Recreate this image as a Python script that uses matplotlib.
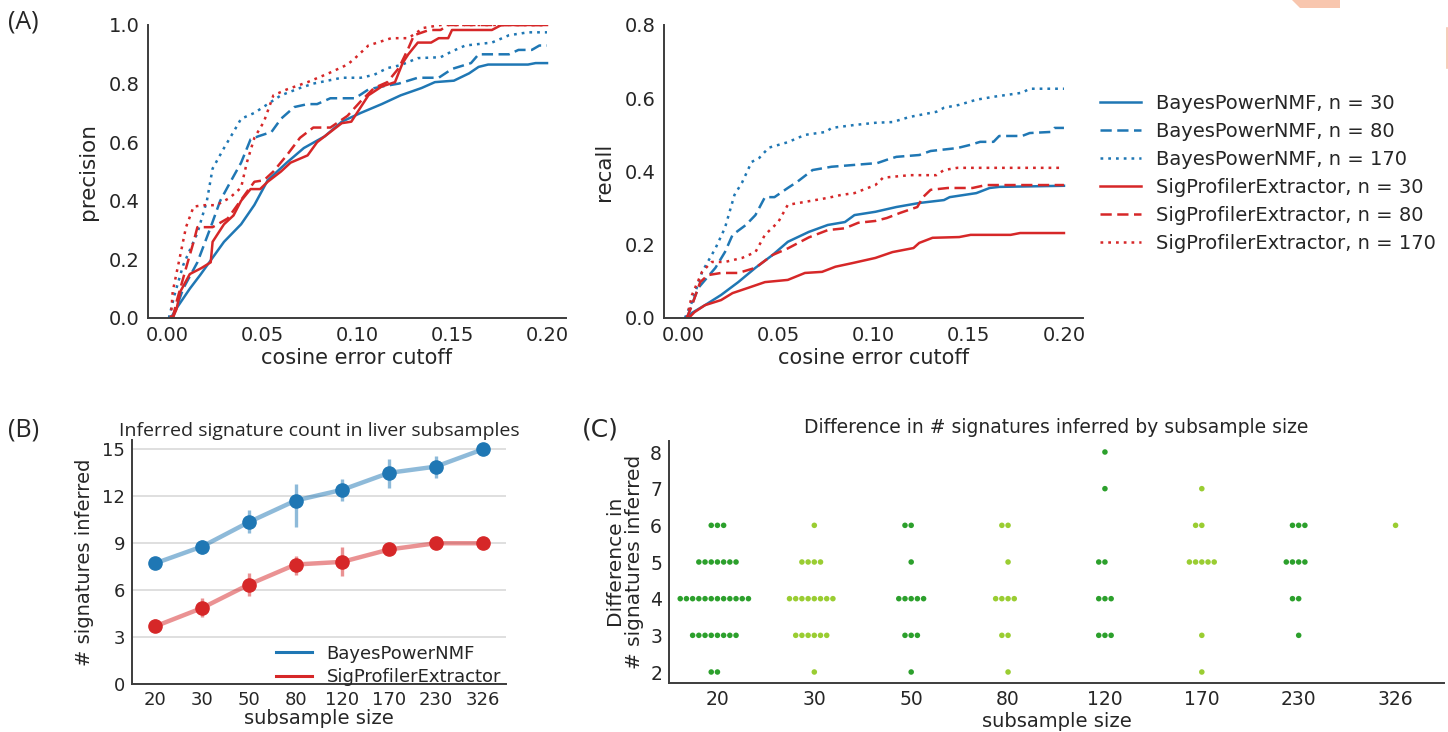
import matplotlib
matplotlib.use("Agg")
import matplotlib.pyplot as plt
from matplotlib.patches import Polygon
import numpy as np

# ---------------- data ----------------
methods = ["BayesPowerNMF", "SigProfilerExtractor"]
sizes_A = [30, 80, 170]

prec_bayes30_x = [0.002, 0.005, 0.012, 0.0175, 0.03, 0.039, 0.046, 0.053, 0.063, 0.072, 0.083, 0.092, 0.102, 0.113, 0.123, 0.134, 0.141, 0.151, 0.159, 0.164, 0.169, 0.19, 0.194, 0.2]
prec_bayes30_y = [0, 0.033, 0.10, 0.147, 0.26, 0.32, 0.386, 0.47, 0.53, 0.58, 0.62, 0.67, 0.70, 0.73, 0.76, 0.785, 0.805, 0.81, 0.835, 0.857, 0.865, 0.865, 0.87, 0.87]
prec_bayes80_x = [0.003, 0.0085, 0.016, 0.023, 0.028, 0.033, 0.039, 0.044, 0.048, 0.055, 0.06, 0.067, 0.074, 0.079, 0.086, 0.099, 0.106, 0.113, 0.122, 0.132, 0.143, 0.15, 0.16, 0.164, 0.18, 0.185, 0.192, 0.196, 0.2]
prec_bayes80_y = [0, 0.10, 0.19, 0.31, 0.40, 0.46, 0.53, 0.61, 0.62, 0.635, 0.68, 0.72, 0.73, 0.73, 0.75, 0.75, 0.78, 0.79, 0.80, 0.82, 0.82, 0.85, 0.87, 0.90, 0.90, 0.915, 0.915, 0.93, 0.93]
prec_bayes170_x = [0.001, 0.004, 0.0085, 0.016, 0.021, 0.024, 0.03, 0.035, 0.039, 0.046, 0.053, 0.06, 0.07, 0.077, 0.092, 0.102, 0.109, 0.116, 0.123, 0.132, 0.144, 0.15, 0.157, 0.171, 0.18, 0.19, 0.2]
prec_bayes170_y = [0, 0.08, 0.18, 0.29, 0.40, 0.51, 0.58, 0.635, 0.68, 0.70, 0.73, 0.76, 0.785, 0.80, 0.82, 0.82, 0.83, 0.853, 0.863, 0.887, 0.89, 0.91, 0.93, 0.94, 0.965, 0.975, 0.975]
prec_sig30_x = [0.003, 0.005, 0.007, 0.012, 0.018, 0.023, 0.024, 0.03, 0.035, 0.039, 0.044, 0.049, 0.053, 0.06, 0.065, 0.074, 0.079, 0.086, 0.092, 0.097, 0.10, 0.106, 0.113, 0.12, 0.124, 0.127, 0.132, 0.139, 0.143, 0.148, 0.15, 0.171, 0.176, 0.2]
prec_sig30_y = [0, 0.03, 0.09, 0.15, 0.17, 0.19, 0.26, 0.32, 0.35, 0.40, 0.44, 0.44, 0.465, 0.50, 0.53, 0.555, 0.60, 0.635, 0.665, 0.67, 0.70, 0.76, 0.79, 0.805, 0.87, 0.90, 0.94, 0.94, 0.955, 0.955, 0.983, 0.983, 1.0, 1.0]
prec_sig80_x = [0.003, 0.005, 0.01, 0.014, 0.016, 0.024, 0.032, 0.037, 0.042, 0.046, 0.051, 0.056, 0.063, 0.07, 0.077, 0.086, 0.095, 0.102, 0.109, 0.116, 0.122, 0.127, 0.13, 0.138, 0.144, 0.148, 0.2]
prec_sig80_y = [0, 0.055, 0.17, 0.26, 0.31, 0.31, 0.34, 0.385, 0.43, 0.465, 0.47, 0.50, 0.555, 0.615, 0.65, 0.65, 0.69, 0.74, 0.785, 0.805, 0.853, 0.92, 0.965, 0.983, 0.983, 1.0, 1.0]
prec_sig170_x = [0.002, 0.003, 0.007, 0.01, 0.014, 0.019, 0.026, 0.033, 0.039, 0.042, 0.046, 0.051, 0.056, 0.063, 0.074, 0.085, 0.095, 0.099, 0.106, 0.118, 0.127, 0.135, 0.144, 0.2]
prec_sig170_y = [0, 0.09, 0.215, 0.31, 0.38, 0.385, 0.385, 0.41, 0.445, 0.53, 0.615, 0.67, 0.76, 0.78, 0.805, 0.835, 0.865, 0.887, 0.93, 0.955, 0.955, 0.99, 1.0, 1.0]

rec_bayes30_x = [0.002, 0.0047, 0.0115, 0.02, 0.029, 0.038, 0.047, 0.055, 0.066, 0.076, 0.085, 0.09, 0.101, 0.112, 0.124, 0.137, 0.14, 0.154, 0.161, 0.166, 0.2]
rec_bayes30_y = [0, 0.014, 0.035, 0.063, 0.098, 0.137, 0.172, 0.208, 0.235, 0.254, 0.262, 0.281, 0.29, 0.303, 0.314, 0.322, 0.33, 0.341, 0.355, 0.358, 0.361]
rec_bayes80_x = [0.002, 0.008, 0.017, 0.022, 0.026, 0.033, 0.038, 0.043, 0.048, 0.055, 0.06, 0.068, 0.078, 0.09, 0.102, 0.107, 0.112, 0.124, 0.13, 0.144, 0.151, 0.156, 0.163, 0.166, 0.178, 0.182, 0.193, 0.195, 0.2]
rec_bayes80_y = [0, 0.082, 0.137, 0.18, 0.227, 0.254, 0.281, 0.33, 0.33, 0.355, 0.372, 0.404, 0.413, 0.418, 0.423, 0.432, 0.44, 0.445, 0.456, 0.464, 0.473, 0.481, 0.481, 0.497, 0.497, 0.505, 0.508, 0.519, 0.519]
rec_bayes170_x = [0.001, 0.0047, 0.01, 0.017, 0.022, 0.027, 0.031, 0.036, 0.04, 0.045, 0.055, 0.064, 0.075, 0.078, 0.09, 0.101, 0.11, 0.119, 0.133, 0.137, 0.145, 0.154, 0.163, 0.178, 0.182, 0.2]
rec_bayes170_y = [0, 0.044, 0.126, 0.19, 0.246, 0.336, 0.37, 0.426, 0.437, 0.465, 0.48, 0.50, 0.508, 0.519, 0.527, 0.533, 0.535, 0.549, 0.563, 0.574, 0.582, 0.596, 0.604, 0.615, 0.626, 0.626]
rec_sig30_x = [0.003, 0.006, 0.0115, 0.02, 0.026, 0.034, 0.043, 0.055, 0.064, 0.073, 0.08, 0.089, 0.101, 0.11, 0.121, 0.124, 0.131, 0.145, 0.151, 0.172, 0.177, 0.2]
rec_sig30_y = [0, 0.016, 0.035, 0.049, 0.068, 0.082, 0.098, 0.104, 0.123, 0.126, 0.14, 0.15, 0.164, 0.18, 0.191, 0.205, 0.219, 0.221, 0.227, 0.227, 0.232, 0.232]
rec_sig80_x = [0.002, 0.0047, 0.009, 0.013, 0.02, 0.029, 0.038, 0.047, 0.055, 0.066, 0.076, 0.085, 0.092, 0.101, 0.107, 0.114, 0.123, 0.126, 0.13, 0.139, 0.152, 0.159, 0.2]
rec_sig80_y = [0, 0.035, 0.098, 0.117, 0.123, 0.123, 0.137, 0.172, 0.19, 0.22, 0.24, 0.245, 0.26, 0.265, 0.273, 0.287, 0.303, 0.33, 0.35, 0.355, 0.355, 0.363, 0.363]
rec_sig170_x = [0.002, 0.0047, 0.01, 0.015, 0.022, 0.031, 0.038, 0.043, 0.05, 0.055, 0.064, 0.076, 0.083, 0.09, 0.097, 0.101, 0.105, 0.119, 0.133, 0.137, 0.144, 0.2]
rec_sig170_y = [0, 0.063, 0.126, 0.153, 0.153, 0.164, 0.18, 0.227, 0.262, 0.309, 0.317, 0.328, 0.336, 0.341, 0.355, 0.363, 0.383, 0.39, 0.39, 0.404, 0.41, 0.41]

subsample_sizes = ["20", "30", "50", "80", "120", "170", "230", "326"]
bayes_mean = [7.72, 8.79, 10.35, 11.73, 12.42, 13.5, 13.9, 15.0]
bayes_lo = [7.35, 8.3, 9.64, 10.03, 11.7, 12.55, 13.2, 15.0]
bayes_hi = [8.1, 9.2, 11.1, 12.8, 13.1, 14.4, 14.57, 15.0]
sig_mean = [3.69, 4.86, 6.36, 7.64, 7.81, 8.6, 9.0, 9.0]
sig_lo = [3.35, 4.3, 5.65, 7.0, 6.93, 8.3, 9.0, 9.0]
sig_hi = [4.16, 5.48, 7.1, 8.17, 8.75, 8.83, 9.0, 9.0]

# Panel C: counts of each difference value per subsample size
diff_values = [2, 3, 4, 5, 6, 7, 8]
diff_counts = {
    "20":  [2, 8, 12, 7, 3, 0, 0],
    "30":  [1, 6, 8, 4, 1, 0, 0],
    "50":  [1, 3, 5, 1, 2, 0, 0],
    "80":  [1, 2, 4, 1, 2, 0, 0],
    "120": [0, 3, 3, 2, 0, 1, 1],
    "170": [1, 1, 0, 5, 2, 1, 0],
    "230": [0, 1, 2, 4, 3, 0, 0],
    "326": [0, 0, 0, 0, 1, 0, 0],
}

# ---------------- style ----------------
BLUE = "#1f77b4"
RED = "#d62728"
DARKG = "#2ca02c"
LIGHTG = "#9acd32"
TXT = "#262626"
SPINE = "#3c3c3c"
plt.rcParams["font.family"] = ["DejaVu Sans"]
plt.rcParams["text.color"] = TXT
plt.rcParams["axes.labelcolor"] = TXT
plt.rcParams["xtick.color"] = TXT
plt.rcParams["ytick.color"] = TXT

W, H = 1448, 732
fig = plt.figure(figsize=(W / 100, H / 100), dpi=100)
fig.patch.set_facecolor("white")


def add_ax(x0, y0, x1, y1):
    return fig.add_axes([x0 / W, 1 - y1 / H, (x1 - x0) / W, (y1 - y0) / H])


def style(ax):
    for s in ["top", "right"]:
        ax.spines[s].set_visible(False)
    for s in ["left", "bottom"]:
        ax.spines[s].set_color(SPINE)
        ax.spines[s].set_linewidth(1.4)
    ax.tick_params(length=0, pad=6)


ls_map = {30: "-", 80: (0, (4.5, 2.2)), 170: (0, (1.1, 2.0))}

# ---------------- Panel A ----------------
axP = add_ax(148, 25, 566, 318)
axR = add_ax(664, 25, 1083, 318)
prec = {
    ("B", 30): (prec_bayes30_x, prec_bayes30_y), ("B", 80): (prec_bayes80_x, prec_bayes80_y),
    ("B", 170): (prec_bayes170_x, prec_bayes170_y), ("S", 30): (prec_sig30_x, prec_sig30_y),
    ("S", 80): (prec_sig80_x, prec_sig80_y), ("S", 170): (prec_sig170_x, prec_sig170_y),
}
rec = {
    ("B", 30): (rec_bayes30_x, rec_bayes30_y), ("B", 80): (rec_bayes80_x, rec_bayes80_y),
    ("B", 170): (rec_bayes170_x, rec_bayes170_y), ("S", 30): (rec_sig30_x, rec_sig30_y),
    ("S", 80): (rec_sig80_x, rec_sig80_y), ("S", 170): (rec_sig170_x, rec_sig170_y),
}
handles = []
for m, col, name in [("B", BLUE, methods[0]), ("S", RED, methods[1])]:
    for n in sizes_A:
        x, y = prec[(m, n)]
        h, = axP.plot(x, y, color=col, ls=ls_map[n], lw=1.8, label=f"{name}, n = {n}")
        x, y = rec[(m, n)]
        axR.plot(x, y, color=col, ls=ls_map[n], lw=1.8)
        handles.append(h)

for ax, ylab, ymax, yt in [(axP, "precision", 1.0, np.arange(0, 1.01, 0.2)),
                           (axR, "recall", 0.8, np.arange(0, 0.81, 0.2))]:
    style(ax)
    ax.set_xlim(-0.01, 0.21)
    ax.set_ylim(0, ymax)
    ax.set_xticks([0, 0.05, 0.10, 0.15, 0.20])
    ax.set_xticklabels(["0.00", "0.05", "0.10", "0.15", "0.20"])
    ax.set_yticks(yt)
    ax.set_yticklabels([f"{v:.1f}" for v in yt])
    ax.tick_params(labelsize=14)
    ax.set_xlabel("cosine error cutoff", fontsize=15, labelpad=2)
    ax.set_ylabel(ylab, fontsize=15.5, labelpad=8)

leg = fig.legend(handles=handles, loc="upper left", bbox_to_anchor=(1092 / W, 1 - 86 / H),
                 frameon=False, fontsize=14, handlelength=2.1, handletextpad=0.8,
                 labelspacing=0.46, borderaxespad=0)

# ---------------- Panel B ----------------
axB = add_ax(132, 440, 506, 684)
style(axB)
xs = np.arange(len(subsample_sizes))
axB.yaxis.grid(True, color="#d9d9d9", lw=1.2)
axB.set_axisbelow(True)
for mean, lo, hi, col, name in [(bayes_mean, bayes_lo, bayes_hi, BLUE, methods[0]),
                                (sig_mean, sig_lo, sig_hi, RED, methods[1])]:
    axB.plot(xs, mean, color=col, lw=3.2, alpha=0.5, zorder=2)
    axB.vlines(xs, lo, hi, color=col, lw=2.4, alpha=0.5, zorder=2)
    axB.plot(xs, mean, "o", color=col, ms=9.5, zorder=3)
    axB.plot([], [], color=col, lw=2.2, label=name)
axB.set_xlim(-0.5, 7.5)
axB.set_ylim(0, 15.6)
axB.set_xticks(xs)
axB.set_xticklabels(subsample_sizes)
axB.set_yticks([0, 3, 6, 9, 12, 15])
axB.tick_params(labelsize=13, pad=5)
axB.set_xlabel("subsample size", fontsize=14, labelpad=0)
axB.set_ylabel("# signatures inferred", fontsize=14, labelpad=6)
axB.set_title("Inferred signature count in liver subsamples", fontsize=14,
              family=["Open Sans", "DejaVu Sans"], pad=3)
axB.legend(loc="lower right", bbox_to_anchor=(1.03, -0.075), frameon=False, fontsize=13,
           handlelength=2.0, handletextpad=0.8, labelspacing=0.3)

# ---------------- Panel C ----------------
axC = add_ax(669, 441, 1444, 683)
style(axC)
narrow = ["Liberation Sans Narrow", "DejaVu Sans"]
spacing = 0.064
for i, cat in enumerate(subsample_sizes):
    col = DARKG if i % 2 == 0 else LIGHTG
    for v, c in zip(diff_values, diff_counts[cat]):
        if c == 0:
            continue
        order = [0] + [s * k for k in range(1, c) for s in (-1, 1)]
        offs = np.array(order[:c], dtype=float) * spacing
        axC.scatter(i + offs, np.full(c, v), s=16, color=col, edgecolors="none", zorder=3)
axC.set_xlim(-0.5, 7.5)
axC.set_ylim(1.7, 8.3)
axC.set_xticks(np.arange(len(subsample_sizes)))
axC.set_xticklabels(subsample_sizes, family=narrow)
axC.set_yticks(diff_values)
axC.set_yticklabels([str(v) for v in diff_values], family=narrow)
axC.tick_params(labelsize=13.5, pad=5)
axC.set_xlabel("subsample size", fontsize=14, family=narrow, labelpad=2)
axC.set_ylabel("Difference in\n# signatures inferred", fontsize=14.5, labelpad=4,
               linespacing=0.95)
axC.set_title("Difference in # signatures inferred by subsample size", fontsize=13.5,
              family=narrow, pad=6)

# ---------------- panel labels ----------------
lab = ["Open Sans", "DejaVu Sans"]
fig.text(8 / W, 1 - 22 / H, "(A)", fontsize=18, family=lab, va="center", ha="left")
fig.text(8 / W, 1 - 430 / H, "(B)", fontsize=18, family=lab, va="center", ha="left")
fig.text(582 / W, 1 - 430 / H, "(C)", fontsize=18, family=narrow, va="center", ha="left")

# decorative artefact at top right
fig.patches.append(Polygon([[1292 / W, 1.0], [1340 / W, 1.0], [1340 / W, 1 - 8 / H],
                            [1300 / W, 1 - 8 / H]],
                           closed=True, transform=fig.transFigure, facecolor="#f8c6ae",
                           edgecolor="none"))
fig.add_artist(plt.Line2D([1446.5 / W, 1446.5 / W], [1 - 28 / H, 1 - 68 / H],
                          transform=fig.transFigure, color="#f5c3ac", lw=1.2))

fig.savefig("out.png", dpi=100, facecolor="white")
